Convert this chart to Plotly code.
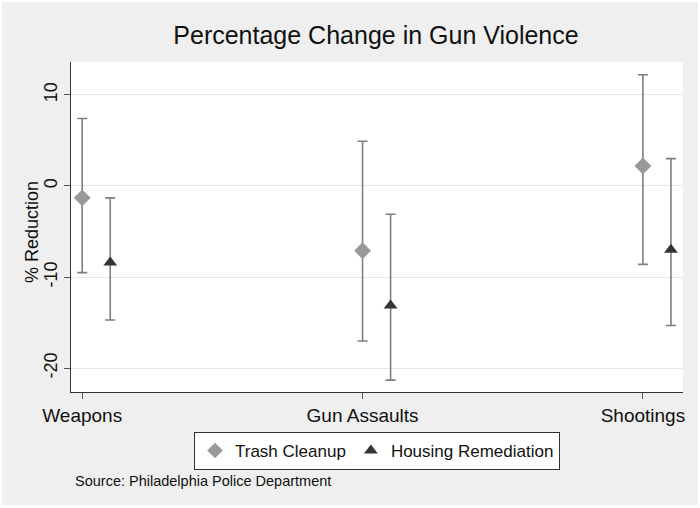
import plotly.graph_objects as go

# Outcome categories and estimates (% change) with 95% CI bounds
categories = ["Weapons", "Gun Assaults", "Shootings"]

trash_est = [-1.3, -7.1, 2.2]
trash_lo = [-9.5, -17.0, -8.6]
trash_hi = [7.4, 4.9, 12.2]

housing_est = [-8.4, -13.1, -7.0]
housing_lo = [-14.7, -21.3, -15.3]
housing_hi = [-1.3, -3.1, 3.0]

y_ticks = [10, 0, -10, -20]

FONT = "Liberation Sans, Arial, sans-serif"
BAR_COLOR = "#7f7f7f"

base_x = list(range(1, len(categories) + 1))
offset = 0.1


def series(name, xs, est, lo, hi, symbol, color, size):
    return go.Scatter(
        x=xs,
        y=est,
        mode="markers",
        name=name,
        marker=dict(symbol=symbol, color=color, size=size, line=dict(width=0)),
        error_y=dict(
            type="data",
            symmetric=False,
            array=[h - e for h, e in zip(hi, est)],
            arrayminus=[e - l for e, l in zip(est, lo)],
            color=BAR_COLOR,
            thickness=1.6,
            width=5,
        ),
    )


fig = go.Figure()
fig.add_trace(series("Trash Cleanup", base_x, trash_est, trash_lo, trash_hi,
                     "diamond", "#999999", 13))
fig.add_trace(series("Housing Remediation", [x + offset for x in base_x],
                     housing_est, housing_lo, housing_hi,
                     "triangle-up", "#333333", 12))

# plot-area geometry in pixels (700 x 508 canvas)
L, R, T, B = 71, 17, 62, 116
W, H = 700, 508
pw, ph = W - L - R, H - T - B


def px_x(p):
    return (p - L) / pw


def px_y(p):
    return (H - B - p) / ph


shapes = [
    # light grey page background with a thin white rim
    dict(type="rect", xref="paper", yref="paper", layer="below",
         x0=px_x(2), x1=px_x(698), y0=px_y(505), y1=px_y(2),
         fillcolor="#efefef", line=dict(width=0)),
    # white plot region
    dict(type="rect", xref="paper", yref="paper", layer="below",
         x0=0, x1=1, y0=0, y1=1, fillcolor="white", line=dict(width=0)),
]

fig.update_layout(
    width=W,
    height=H,
    margin=dict(l=L, r=R, t=T, b=B),
    paper_bgcolor="white",
    plot_bgcolor="rgba(0,0,0,0)",
    font=dict(family=FONT, color="#1a1a1a"),
    shapes=shapes,
    title=dict(
        text="Percentage Change in Gun Violence",
        x=px_x(376), xref="paper", xanchor="center",
        y=1 - 35 / H, yanchor="middle",
        font=dict(size=25, color="#111111"),
    ),
    showlegend=True,
    legend=dict(
        orientation="h",
        x=0.5, xanchor="center",
        y=px_y(432), yanchor="top",
        bgcolor="white",
        bordercolor="#333333",
        borderwidth=1,
        font=dict(size=17, color="#111111"),
        itemsizing="constant",
        itemwidth=30,
    ),
    annotations=[
        dict(text="% Reduction",
             xref="paper", yref="paper",
             x=px_x(32), xanchor="center",
             y=px_y(232), yanchor="middle",
             textangle=-90,
             showarrow=False, font=dict(size=18, color="#111111")),
        dict(text="Source: Philadelphia Police Department",
             xref="paper", yref="paper",
             x=px_x(73), xanchor="left",
             y=px_y(481), yanchor="middle",
             showarrow=False, font=dict(size=14.5, color="#111111")),
    ],
)

fig.update_xaxes(
    range=[0.96, 3.143],
    tickmode="array",
    tickvals=base_x,
    ticktext=categories,
    showgrid=False,
    zeroline=False,
    showline=True,
    linecolor="#333333",
    linewidth=1,
    ticks="outside",
    ticklen=6,
    tickcolor="#555555",
    tickfont=dict(size=19, color="#111111"),
)

fig.update_yaxes(
    range=[-22.6, 13.6],
    tickmode="array",
    tickvals=y_ticks,
    ticktext=[str(v) for v in y_ticks],
    tickangle=-90,
    showgrid=True,
    gridcolor="#e6e6e6",
    gridwidth=1,
    zeroline=False,
    showline=True,
    linecolor="#333333",
    linewidth=1,
    ticks="outside",
    ticklen=6,
    tickcolor="#555555",
    tickfont=dict(size=18, color="#111111"),
)

fig.write_html("out.html")
